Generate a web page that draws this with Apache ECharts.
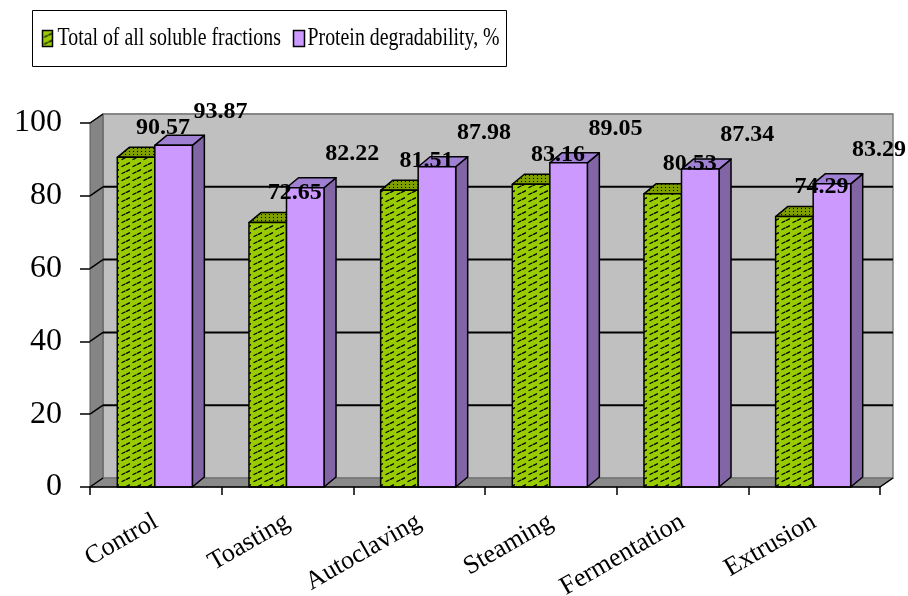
<!DOCTYPE html>
<html><head><meta charset="utf-8">
<script src="https://cdn.jsdelivr.net/npm/echarts@6/dist/echarts.min.js"></script>
<style>html,body{margin:0;padding:0;background:#fff;}#c{width:908px;height:596px;}</style>
</head><body><div id="c"></div>
<script>
const categories = ['Control', 'Toasting', 'Autoclaving', 'Steaming', 'Fermentation', 'Extrusion'];
const solubleTotal = [90.57, 72.65, 81.51, 83.16, 80.53, 74.29];
const degradability = [93.87, 82.22, 87.98, 89.05, 87.34, 83.29];
const yTicks = [0, 20, 40, 60, 80, 100];
const seriesNames = ['Total of all soluble fractions', 'Protein degradability, %'];

const DX = 13, DY = -9;      // wall depth
const BDX = 12, BDY = -10;   // bar depth
const BAR_FRAC = 0.285;
const SERIF = '"Liberation Serif","Times New Roman",serif';

function makePattern(w, h, bg, draw) {
  const cv = document.createElement('canvas');
  cv.width = w; cv.height = h;
  const ctx = cv.getContext('2d');
  ctx.fillStyle = bg; ctx.fillRect(0, 0, w, h);
  draw(ctx);
  return { image: cv, repeat: 'repeat' };
}
const greenPattern = makePattern(11, 7, '#99CC00', ctx => {
  ctx.strokeStyle = '#000'; ctx.lineWidth = 1.3; ctx.lineCap = 'round';
  ctx.beginPath();
  ctx.moveTo(1, 5.5); ctx.lineTo(4, 4);
  ctx.moveTo(5.5, 3.3); ctx.lineTo(8.5, 1.8);
  ctx.stroke();
});
const greenTopPattern = makePattern(4, 3, '#7F9F00', ctx => {
  ctx.fillStyle = '#000'; ctx.fillRect(1, 1, 1, 1);
});

const STYLES = [
  { front: greenPattern, top: greenTopPattern, side: '#6E8F00' },
  { front: '#CC99FF', top: '#A080D2', side: '#8165A5' }
];

function renderWalls(params, api) {
  const cs = params.coordSys;
  const left = cs.x, right = cs.x + cs.width;
  const v = api.value(1);
  const y = api.coord([0, v])[1];
  const yTop = api.coord([0, yTicks[yTicks.length - 1]])[1];
  const yBot = api.coord([0, yTicks[0]])[1];
  const children = [];
  if (params.dataIndex === 0) {
    children.push({ type: 'polygon', z2: 0, shape: { points: [[left + DX, yTop + DY], [right + DX, yTop + DY], [right + DX, yBot + DY], [left + DX, yBot + DY]] },
      style: { fill: '#C0C0C0', stroke: '#808080', lineWidth: 1.5 } });
    children.push({ type: 'polygon', z2: 1, shape: { points: [[left, yBot], [left, yTop], [left + DX, yTop + DY], [left + DX, yBot + DY]] },
      style: { fill: '#858585', stroke: '#5a5a5a', lineWidth: 1 } });
    children.push({ type: 'polygon', z2: 1, shape: { points: [[left, yBot], [right, yBot], [right + DX, yBot + DY], [left + DX, yBot + DY]] },
      style: { fill: '#8A8A8A', stroke: '#6a6a6a', lineWidth: 1 } });
    children.push({ type: 'line', z2: 6, shape: { x1: right, y1: yBot, x2: right + DX, y2: yBot + DY }, style: { stroke: '#000', lineWidth: 1.5 } });
  }
  const isTop = v === yTicks[yTicks.length - 1];
  if (v !== yTicks[0]) {
    children.push({ type: 'line', z2: 5, shape: { x1: left + DX, y1: y + DY, x2: right + DX, y2: y + DY },
      style: { stroke: isTop ? '#808080' : '#000', lineWidth: isTop ? 1.5 : 2 } });
  }
  children.push({ type: 'line', z2: 5, shape: { x1: left, y1: y, x2: left + DX, y2: y + DY }, style: { stroke: '#000', lineWidth: 1.5 } });
  return { type: 'group', children };
}

function barGeom(api, kind) {
  const i = api.value(0), v = api.value(1);
  const top = api.coord([i, v]);
  const base = api.coord([i, 0]);
  const bw = api.size([1, 0])[0] * BAR_FRAC;
  const x0 = kind === 0 ? top[0] - bw - 1 : top[0] - 1;
  return { x0, x1: x0 + bw, yt: top[1], yb: base[1], v };
}

function makeBarRenderer(kind) {
  return function (params, api) {
    const g = barGeom(api, kind);
    const st = STYLES[kind];
    const line = { stroke: '#000', lineWidth: 1.5, lineJoin: 'round' };
    return { type: 'group', children: [
      { type: 'polygon', shape: { points: [[g.x1, g.yb], [g.x1, g.yt], [g.x1 + BDX, g.yt + BDY], [g.x1 + BDX, g.yb + BDY]] }, style: Object.assign({ fill: st.side }, line) },
      { type: 'polygon', shape: { points: [[g.x0, g.yt], [g.x1, g.yt], [g.x1 + BDX, g.yt + BDY], [g.x0 + BDX, g.yt + BDY]] }, style: Object.assign({ fill: st.top }, line) },
      { type: 'polygon', shape: { points: [[g.x0, g.yb], [g.x0, g.yt], [g.x1, g.yt], [g.x1, g.yb]] }, style: Object.assign({ fill: st.front }, line) }
    ] };
  };
}

const LABEL_OFFSETS = [[27, -30], [47, -34]];
function makeLabelRenderer(kind) {
  return function (params, api) {
    const g = barGeom(api, kind);
    const off = LABEL_OFFSETS[kind];
    return { type: 'text', x: (g.x0 + g.x1) / 2 + off[0], y: g.yt + off[1],
      style: { text: g.v.toFixed(2), fill: '#000', font: 'bold 24px ' + SERIF, align: 'center', verticalAlign: 'middle' } };
  };
}

const toPairs = arr => arr.map((v, i) => [i, v]);

// legend drawn as graphic (condensed serif text like the reference)
const LEG_SCALE = 0.763;
const legendGraphic = {
  type: 'group', left: 32, top: 10,
  children: [
    { type: 'rect', shape: { x: 0, y: 0, width: 474, height: 56 }, style: { fill: '#fff', stroke: '#000', lineWidth: 1 } },
    { type: 'rect', shape: { x: 10, y: 20, width: 10, height: 16 }, style: { fill: greenPattern, stroke: '#000', lineWidth: 1.5 } },
    { type: 'text', x: 25, y: 28, scaleX: LEG_SCALE, style: { text: seriesNames[0], font: '26px ' + SERIF, fill: '#000', align: 'left', verticalAlign: 'middle' } },
    { type: 'rect', shape: { x: 261, y: 20, width: 11, height: 16 }, style: { fill: '#CC99FF', stroke: '#000', lineWidth: 1.5 } },
    { type: 'text', x: 275, y: 28, scaleX: LEG_SCALE, style: { text: seriesNames[1], font: '26px ' + SERIF, fill: '#000', align: 'left', verticalAlign: 'middle' } }
  ]
};

const chart = echarts.init(document.getElementById('c'), null, { renderer: 'canvas' });
chart.setOption({
  backgroundColor: '#fff',
  animation: false,
  graphic: [legendGraphic],
  grid: { left: 90, right: 28, top: 123, bottom: 109, containLabel: false, outerBoundsMode: 'none' },
  xAxis: {
    type: 'category', data: categories, boundaryGap: true, z: 3,
    axisLine: { show: true, lineStyle: { color: '#000', width: 1.5 } },
    axisTick: { show: true, length: 8, alignWithLabel: false, lineStyle: { color: '#000', width: 1.5 } },
    axisLabel: { interval: 0, rotate: 30, margin: 33, color: '#000', fontFamily: SERIF, fontSize: 26 },
    splitLine: { show: false }
  },
  yAxis: {
    type: 'value', min: yTicks[0], max: yTicks[yTicks.length - 1], interval: yTicks[1] - yTicks[0], z: 3,
    axisLine: { show: false },
    axisTick: { show: true, length: 10, lineStyle: { color: '#000', width: 1.5 } },
    axisLabel: { margin: 28, color: '#000', fontFamily: SERIF, fontSize: 32 },
    splitLine: { show: false }
  },
  series: [
    { type: 'custom', name: 'walls', z: 1, clip: false, silent: true, renderItem: renderWalls, data: yTicks.map(v => [0, v]) },
    { type: 'custom', name: seriesNames[0], z: 2, clip: false, renderItem: makeBarRenderer(0), data: toPairs(solubleTotal),
      itemStyle: { color: greenPattern, borderColor: '#000', borderWidth: 1.5 } },
    { type: 'custom', name: seriesNames[1], z: 2, clip: false, renderItem: makeBarRenderer(1), data: toPairs(degradability),
      itemStyle: { color: '#CC99FF', borderColor: '#000', borderWidth: 1.5 } },
    { type: 'custom', name: 'labels1', z: 4, clip: false, silent: true, renderItem: makeLabelRenderer(0), data: toPairs(solubleTotal) },
    { type: 'custom', name: 'labels2', z: 4, clip: false, silent: true, renderItem: makeLabelRenderer(1), data: toPairs(degradability) }
  ]
});
</script>
</body></html>
